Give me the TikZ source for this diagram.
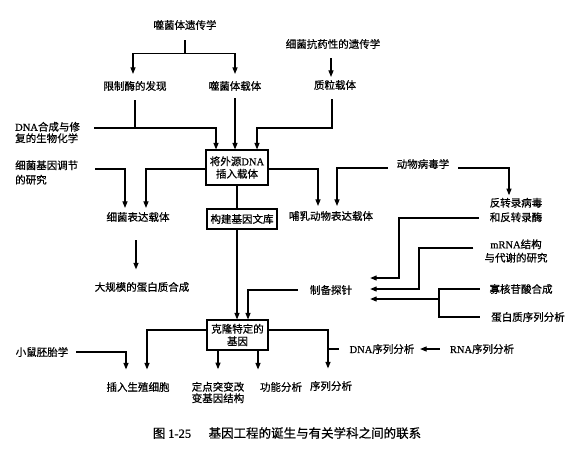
\documentclass[tikz,border=0pt]{standalone}
\usepackage{fontspec}
\setmainfont{Noto Sans CJK SC}[FakeBold=0.6]
\newfontfamily\lat{Liberation Serif}[FakeBold=0.5]
\usetikzlibrary{arrows.meta}
\begin{document}
\begin{tikzpicture}[x=1pt,y=-1pt,
  txt/.style={inner sep=0pt, font=\fontsize{10.5}{12.5}\selectfont, align=center},
  ltxt/.style={txt, align=left, anchor=west},
  boxn/.style={draw, line width=1.1pt, inner sep=0pt, font=\fontsize{10.5}{12.5}\selectfont, align=center},
  ln/.style={line width=1.1pt},
  arr/.style={line width=1.1pt, -{Triangle[length=6.5pt,width=5pt]}}]
\useasboundingbox[fill=white] (0,0) rectangle (585,450);

% nodes
\node[txt] (phg) at (185,25) {噬菌体遗传学};
\node[txt] (xz) at (135,86) {限制酶的发现};
\node[txt] (sjzt) at (235,86) {噬菌体载体};
\node[txt] (kzt) at (333,44) {细菌抗药性的遗传学};
\node[txt] (zl) at (335,85) {质粒载体};
\node[ltxt, font=\fontsize{10.5}{11.5}\selectfont] (dnah) at (15,132.5) {{\lat DNA}合成与修\\复的生物化学};
\node[boxn, minimum width=62pt, minimum height=35pt] (b1box) at (237,167.5) {将外源{\lat DNA}\\插入载体};
\node[ltxt, font=\fontsize{10.5}{14.5}\selectfont] (xjtj) at (15,172.5) {细菌基因调节\\的研究};
\node[txt] (xjbd) at (138,217) {细菌表达载体};
\node[txt] (dgm) at (142,287) {大规模的蛋白质合成};
\node[boxn, minimum width=70pt, minimum height=20pt] (gjwk) at (242,219) {构建基因文库};
\node[txt] (dwbd) at (423,164) {动物病毒学};
\node[txt] (brdw) at (331,216) {哺乳动物表达载体};
\node[txt, font=\fontsize{10.5}{14.5}\selectfont] (fzl) at (516,210) {反转录病毒\\和反转录酶};
\node[txt, font=\fontsize{10.5}{13.5}\selectfont] (mrna) at (516,251) {{\lat mRNA}结构\\与代谢的研究};
\node[txt] (zbtz) at (331,290) {制备探针};
\node[txt] (gh) at (521,289) {寡核苷酸合成};
\node[txt] (dbx) at (528,317) {蛋白质序列分析};
\node[boxn, minimum width=61pt, minimum height=30pt] (kl) at (237.5,335) {克隆特定的\\基因};
\node[txt] (xs) at (42,352) {小鼠胚胎学};
\node[txt] (crsz) at (138,387) {插入生殖细胞};
\node[txt, font=\fontsize{10.5}{11.5}\selectfont] (ddtb) at (218,392.5) {定点突变改\\变基因结构};
\node[txt] (gnfx) at (281,387) {功能分析};
\node[txt] (xlfx) at (331,386) {序列分析};
\node[txt] (dnax) at (382,349) {{\lat DNA}序列分析};
\node[txt] (rnax) at (482,349) {{\lat RNA}序列分析};
\node[txt, font=\fontsize{12.5}{14}\selectfont] (cap) at (287,433) {图 {\lat 1-25}\hspace{1.4em}基因工程的诞生与有关学科之间的联系};

% connectors
\draw[ln] ([yshift=-10pt]phg.south) -- ++(0,13) coordinate (b1);
\draw[arr] (b1) -| ([shift={(-2pt,7pt)}]xz.north);
\draw[arr] (b1) -| ([yshift=7pt]sjzt.north);
\draw[arr] ([shift={(-2pt,-9pt)}]kzt.south) -- ([shift={(-4pt,3pt)}]zl.north);

\draw[ln] ([yshift=-9pt]xz.south) -- ++(0,28);
\draw[arr] ([shift={(14pt,4.5pt)}]dnah.east) -| ([xshift=-21pt]b1box.north);
\draw[arr] ([yshift=-7pt]sjzt.south) -- (sjzt.south |- b1box.north);
\draw[arr] ([shift={(-3pt,-9pt)}]zl.south) |- (257,128) -- ([xshift=20pt]b1box.north);

\draw[arr] ([yshift=-1.5pt]b1box.west) -| ([shift={(8pt,4pt)}]xjbd.north);
\draw[arr] ([shift={(17pt,3.5pt)}]xjtj.east) -| ([shift={(-13pt,4pt)}]xjbd.north);
\draw[arr] ([shift={(-2pt,-18pt)}]xjbd.south) -- ([shift={(-6pt,12.5pt)}]dgm.north);

\draw[ln] (b1box.south) -- (b1box.south |- gjwk.north);
\draw[arr] (b1box.south |- gjwk.south) -- (b1box.south |- kl.north);
\draw[arr] ([xshift=-12pt]zbtz.west) -| ([xshift=10.5pt]kl.north);

\draw[arr] ([yshift=-1.5pt]b1box.east) -| ([shift={(-13pt,5pt)}]brdw.north);
\draw[arr] ([shift={(-9pt,-4pt)}]dwbd.west) -| ([shift={(6pt,5pt)}]brdw.north);
\draw[arr] ([shift={(9pt,-4pt)}]dwbd.east) -| ([shift={(-7pt,2.5pt)}]fzl.north);

\draw[arr] ([shift={(-11pt,-8pt)}]fzl.west) -| (399,278) -- ([shift={(18pt,12pt)}]zbtz.east);
\draw[arr] ([shift={(-11pt,3pt)}]mrna.west) -| (419,289) -- ([shift={(18pt,1pt)}]zbtz.east);
\coordinate (br) at (439,299);
\draw[ln] ([xshift=-9.5pt]gh.west) -| (br) |- ([xshift=-11pt]dbx.west);
\draw[arr] (br) -- ([shift={(18pt,-9pt)}]zbtz.east);

\draw[arr] ([yshift=5pt]kl.west) -| ([shift={(9pt,12.5pt)}]crsz.north);
\draw[arr] ([xshift=8pt]xs.east) -| ([shift={(-12pt,12.5pt)}]crsz.north);
\draw[arr] (kl.south -| ddtb.north) -- ([yshift=12.5pt]ddtb.north);
\draw[arr] ([xshift=20.5pt]kl.south) -- ([shift={(-23pt,12.5pt)}]gnfx.north);
\draw[arr] ([yshift=5pt]kl.east) -| ([shift={(-3pt,12.5pt)}]xlfx.north);
\draw[ln] ([xshift=-10.5pt]dnax.west) -- ([xshift=-21.5pt]dnax.west);
\draw[arr] ([xshift=-10pt]rnax.west) -- ([xshift=5.5pt]dnax.east);
\end{tikzpicture}
\end{document}
